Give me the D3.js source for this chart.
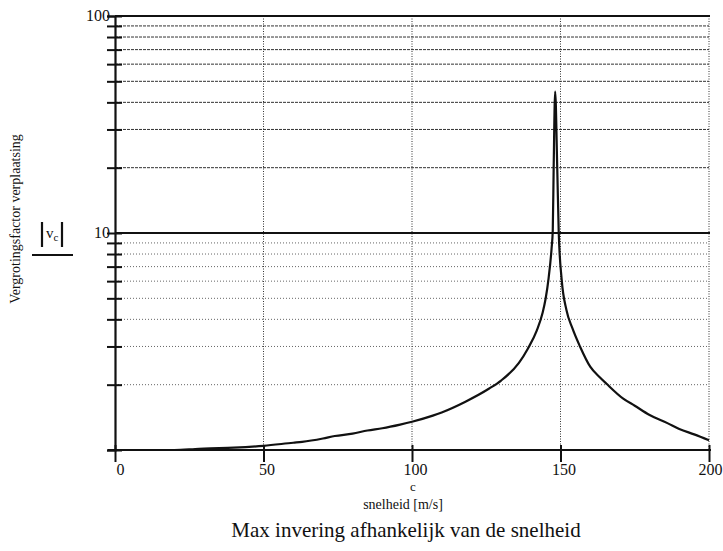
<!DOCTYPE html>
<html>
<head>
<meta charset="utf-8">
<script src="https://cdn.jsdelivr.net/npm/d3@7"></script>
<style>
  body { margin: 0; background: #fff; }
  svg { display: block; font-family: "Liberation Serif", "Times New Roman", serif; }
</style>
</head>
<body>
<svg width="723" height="551"></svg>
<script>
// snelheid c [m/s] en vergrotingsfactor
var speed  = [0, 10, 20, 27, 30, 40, 50, 60, 63, 70, 74, 80, 85, 90, 96, 100, 107, 110, 118, 126, 130, 136, 139, 142, 144, 145, 146, 147, 147.4, 147.7, 148.2, 148.9, 149.4, 150.4, 152, 154, 156.6, 160, 163.3, 165.5, 171, 175, 180, 186, 190, 195, 200];
var factor = [1.00, 1.00, 1.00, 1.01, 1.015, 1.025, 1.045, 1.08, 1.09, 1.13, 1.16, 1.19, 1.23, 1.26, 1.31, 1.35, 1.44, 1.49, 1.67, 1.92, 2.09, 2.52, 2.93, 3.55, 4.3, 4.99, 6.2, 8.5, 10.3, 20, 44.8, 20, 10.1, 6.1, 4.42, 3.64, 2.99, 2.42, 2.16, 2.02, 1.73, 1.60, 1.45, 1.33, 1.25, 1.18, 1.11];

var xTicks = [0, 50, 100, 150, 200];
var yGrid = [2, 3, 4, 5, 6, 7, 8, 9, 20, 30, 40, 50, 60, 70, 80, 90];
var yTicks = [1, 2, 3, 4, 5, 6, 7, 8, 9, 10, 20, 30, 40, 50, 60, 70, 80, 90, 100];
var yLabels = [10, 100];

var svg = d3.select("svg");

var x = d3.scaleLinear().domain([0, 200]).range([115, 709]);
var y = d3.scaleLog().domain([1, 100]).range([450, 16]);

// rooster
svg.append("g").selectAll("line")
    .data(yGrid)
    .enter().append("line")
      .attr("x1", x(0)).attr("x2", x(200))
      .attr("y1", function(d) { return y(d); })
      .attr("y2", function(d) { return y(d); })
      .attr("stroke", function(d) { return d >= 20 ? "#333" : "#666"; })
      .attr("stroke-width", 1)
      .attr("stroke-dasharray", function(d) { return d >= 20 ? "3,1" : "1,2"; });

svg.append("g").selectAll("line")
    .data(xTicks.slice(1))
    .enter().append("line")
      .attr("x1", function(d) { return x(d); })
      .attr("x2", function(d) { return x(d); })
      .attr("y1", y(100)).attr("y2", y(1))
      .attr("stroke", "#333")
      .attr("stroke-width", 1)
      .attr("stroke-dasharray", "1,1.5");

// decade lijnen
svg.append("g").selectAll("line")
    .data([10, 100])
    .enter().append("line")
      .attr("x1", x(0)).attr("x2", x(200) + 1)
      .attr("y1", function(d) { return y(d); })
      .attr("y2", function(d) { return y(d); })
      .attr("stroke", "#111")
      .attr("stroke-width", 2);

// assen
var yAxis = d3.axisLeft(y)
    .tickValues(yTicks)
    .tickSize(8)
    .tickFormat(function(d) { return yLabels.indexOf(d) > -1 ? d : ""; });

var gy = svg.append("g")
    .attr("transform", "translate(" + x(0) + ",0)")
    .call(yAxis);
gy.attr("font-family", "Liberation Serif").attr("font-size", 16);
gy.select(".domain").attr("stroke", "#111").attr("stroke-width", 2.2);
gy.selectAll(".tick line").attr("x1", 7).attr("stroke", "#111").attr("stroke-width", 2);
gy.selectAll(".tick text")
    .attr("x", -5)
    .attr("dy", "0.25em")
    .attr("fill", "#111");

var xAxis = d3.axisBottom(x)
    .tickValues(xTicks)
    .tickSize(12)
    .tickSizeOuter(0);

var gx = svg.append("g")
    .attr("transform", "translate(0," + y(1) + ")")
    .call(xAxis);
gx.attr("font-family", "Liberation Serif").attr("font-size", 16);
gx.select(".domain").attr("stroke", "#111").attr("stroke-width", 2.2).attr("d", "M108,0H711");
gx.selectAll(".tick line").attr("y1", -5).attr("stroke", "#111").attr("stroke-width", 2);
gx.selectAll(".tick text")
    .attr("y", 14)
    .attr("text-anchor", function(d) { return d === 0 ? "start" : d === 200 ? "end" : "middle"; })
    .attr("dx", function(d) { return d === 0 ? 1 : d === 200 ? 13 : 3; })
    .attr("fill", "#111");

// kromme
var pts = speed.map(function(c, i) { return [c, factor[i]]; });
var line = d3.line()
    .x(function(d) { return x(d[0]); })
    .y(function(d) { return y(d[1]); })
    .curve(d3.curveMonotoneX);

svg.append("path")
    .datum(pts)
    .attr("fill", "none")
    .attr("stroke", "#111")
    .attr("stroke-width", 2.2)
    .attr("stroke-linejoin", "round")
    .attr("d", line);

// teksten
svg.append("text")
    .attr("transform", "translate(20,219) rotate(-90)")
    .attr("text-anchor", "middle")
    .style("font-size", "14px")
    .attr("fill", "#111")
    .text("Vergrotingsfactor verplaatsing");

var frac = svg.append("g").attr("fill", "#111").attr("stroke", "#111");
frac.append("line").attr("x1", 42).attr("x2", 42).attr("y1", 222).attr("y2", 247).attr("stroke-width", 2.2);
frac.append("line").attr("x1", 62).attr("x2", 62).attr("y1", 222).attr("y2", 247).attr("stroke-width", 2.2);
frac.append("line").attr("x1", 32).attr("x2", 73).attr("y1", 255).attr("y2", 255).attr("stroke-width", 1.8);
var vt = frac.append("text").attr("x", 46).attr("y", 238).attr("stroke", "none").style("font-size", "15px");
vt.append("tspan").text("v");
vt.append("tspan").attr("dy", 3).style("font-size", "11px").text("c");

svg.append("text")
    .attr("x", 413).attr("y", 491)
    .attr("text-anchor", "middle")
    .style("font-size", "13px")
    .attr("fill", "#111")
    .text("c");

svg.append("text")
    .attr("x", 403).attr("y", 509)
    .attr("text-anchor", "middle")
    .style("font-size", "14px")
    .attr("fill", "#111")
    .text("snelheid [m/s]");

svg.append("text")
    .attr("x", 406).attr("y", 537)
    .attr("text-anchor", "middle")
    .style("font-size", "21px")
    .attr("fill", "#111")
    .text("Max invering afhankelijk van de snelheid");
</script>
</body>
</html>
